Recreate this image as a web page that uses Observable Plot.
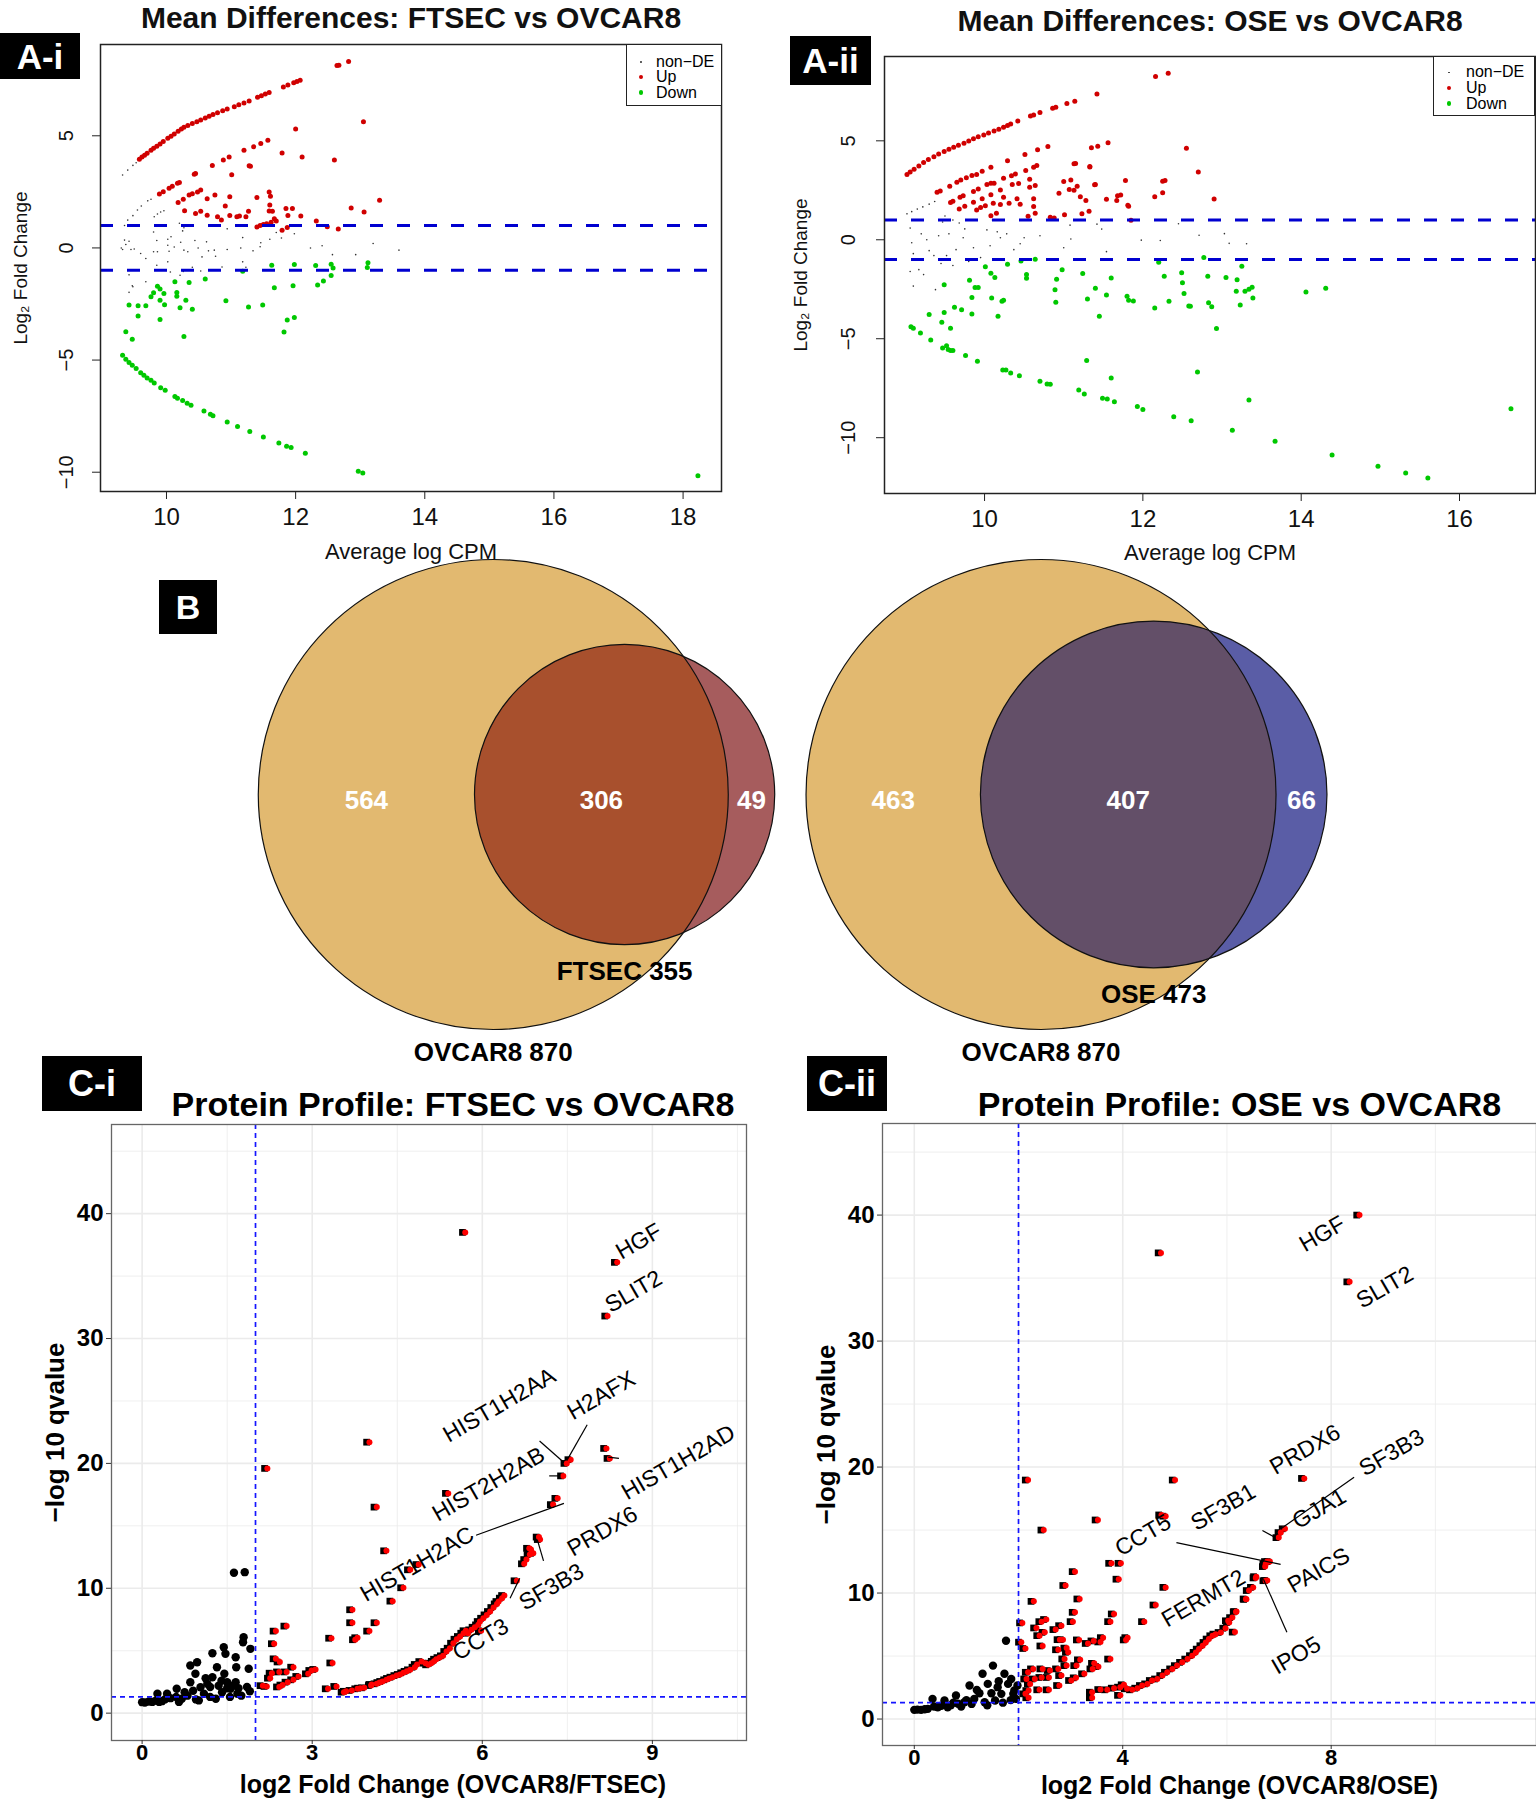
<!DOCTYPE html>
<html><head><meta charset="utf-8">
<script src="https://cdn.jsdelivr.net/npm/d3@7"></script>
<script src="https://cdn.jsdelivr.net/npm/@observablehq/plot@0.6"></script>
<style>
body{margin:0;background:#fff;}
#fig{position:relative;width:1536px;height:1800px;overflow:hidden;background:#fff;font-family:"Liberation Sans",Arial,Helvetica,sans-serif;}
.tag{position:absolute;background:#000;color:#fff;font-weight:bold;display:flex;align-items:center;justify-content:center;line-height:1;}
.legend{position:absolute;background:#fff;border:1.5px solid #222;box-sizing:border-box;font-size:16px;}
.legend span{position:absolute;line-height:1;}
.legend i{position:absolute;border-radius:50%;}
</style></head>
<body><div id="fig"></div>
<script>
// ---------------- DATA ----------------
// Panel A-i : FTSEC vs OVCAR8 (Average log CPM, log2 fold change)
const aiUp = [[9.58,3.95],[9.62,4.05],[9.66,4.13],[9.7,4.22],[9.76,4.36],[9.8,4.44],[9.85,4.53],[9.9,4.63],[9.95,4.74],[10.02,4.89],[10.07,4.98],[10.12,5.08],[10.18,5.2],[10.23,5.3],[10.27,5.38],[10.33,5.46],[10.4,5.55],[10.47,5.63],[10.53,5.7],[10.6,5.79],[10.66,5.87],[10.72,5.95],[10.79,6.03],[10.87,6.12],[10.94,6.19],[11.05,6.3],[11.12,6.38],[11.2,6.46],[11.28,6.55],[11.41,6.72],[11.47,6.78],[11.53,6.86],[11.59,6.93],[11.81,7.18],[11.88,7.26],[11.97,7.37],[12.02,7.42],[12.07,7.48],[12.64,8.13],[12.67,8.15],[12.82,8.31],
[9.89,2.4],[9.95,2.5],[10.04,2.66],[10.09,2.75],[10.17,2.88],[10.2,2.92],[10.43,3.29],[10.45,3.32],[10.71,3.68],[10.88,3.92],[10.97,4.05],[11.2,4.35],[11.35,4.51],[11.46,4.66],[11.57,4.8],[11.01,3.26],[11.3,3.64],[11.28,3.66],[11.79,4.23],[12.0,5.3],[12.1,4.05],[12.6,3.92],[13.05,5.63],
[10.18,2.03],[10.28,1.66],[10.26,2.17],[10.35,2.36],[10.4,2.42],[10.48,2.49],[10.53,2.58],[10.45,1.54],[10.53,1.64],[10.63,2.19],[10.75,2.36],[10.91,1.87],[10.98,2.28],[10.98,1.45],[11.09,1.39],[11.13,1.42],[11.23,1.39],[11.27,1.64],[11.4,2.25],[11.4,0.93],[11.55,1.08],[11.59,2.49],[11.61,2.3],[11.6,1.91],[11.59,1.65],[11.64,1.64],[11.67,1.3],[11.79,0.79],[11.85,1.76],[11.95,1.76],[11.88,1.45],[11.87,0.91],[12.08,1.42],[12.32,1.2],[12.49,0.94],[12.66,0.84],[12.86,1.78],[13.06,1.6],[13.3,2.13],[10.63,1.46],[10.79,1.39],[10.85,1.24],[11.5,1.05],[11.45,1.0],[11.62,1.15],[11.7,1.2]];
const aiDown = [[9.32,-4.79],[9.37,-4.96],[9.42,-5.11],[9.47,-5.23],[9.53,-5.38],[9.6,-5.57],[9.65,-5.68],[9.7,-5.8],[9.76,-5.9],[9.81,-6.02],[9.91,-6.23],[9.98,-6.35],[10.13,-6.62],[10.17,-6.7],[10.25,-6.8],[10.32,-6.92],[10.38,-7.02],[10.58,-7.27],[10.68,-7.42],[10.72,-7.48],[10.94,-7.76],[11.1,-7.96],[11.29,-8.19],[11.5,-8.43],[11.74,-8.7],[11.86,-8.84],[11.93,-8.9],[12.15,-9.15],[12.97,-9.96],[13.04,-10.04],[18.23,-10.16],
[9.37,-3.74],[9.47,-4.07],[9.42,-2.55],[9.56,-2.58],[9.68,-2.58],[9.56,-3.04],[9.76,-2.18],[9.8,-2.0],[9.86,-1.71],[9.9,-1.83],[9.96,-2.03],[9.9,-2.33],[9.97,-2.53],[9.9,-3.19],[10.13,-1.51],[10.16,-1.99],[10.16,-2.15],[10.21,-2.67],[10.3,-2.33],[10.35,-1.54],[10.4,-2.73],[10.27,-3.95],[10.6,-1.39],[10.92,-2.36],[11.18,-1.04],[11.27,-2.63],[11.49,-2.55],[11.63,-0.77],[11.67,-1.78],[11.87,-3.21],[11.82,-3.75],[11.98,-3.1],[11.96,-1.69],[11.98,-0.74],[12.31,-0.78],[12.34,-1.65],[12.43,-1.47],[12.55,-1.23],[12.55,-0.73],[12.58,-0.9],[13.12,-0.66],[13.11,-0.87]];
const aiNonDE = [[9.32,3.25],[9.4,3.47],[9.48,3.68],[9.53,3.8],[9.55,1.69],[9.61,1.87],[9.71,2.1],[9.76,2.17],[9.48,1.44],[9.4,1.24],[9.35,1.0],[9.81,1.39],[9.86,1.51],[9.91,1.6],[9.96,1.66],[9.8,0.71],[10.02,0.39],[10.07,0.5],[10.25,0.76],[10.2,1.1],[10.27,0.9],[10.35,1.02],[9.35,0.35],[9.42,0.3],[9.45,-0.07],[9.32,-0.07],[9.5,-0.05],[9.37,0.15],[9.6,-0.25],[9.68,-0.47],[9.8,-0.17],[9.85,0.33],[9.86,-0.17],[10.04,-0.15],[10.02,0.12],[10.12,0.04],[10.22,0.25],[10.27,-0.1],[10.33,-0.17],[10.44,0.33],[10.49,0.0],[10.55,-0.4],[10.62,0.27],[10.65,-0.13],[10.74,-0.1],[10.76,-0.37],[10.94,-0.07],[10.94,0.85],[11.15,0.0],[11.18,0.46],[11.34,-0.13],[11.46,0.23],[11.45,0.05],[11.6,0.39],[11.7,0.69],[11.78,0.44],[11.98,0.63],[12.23,0.0],[12.41,0.1],[12.57,-0.3],[12.93,-0.3],[13.2,0.2],[13.6,-0.1],[9.68,-1.51],[9.48,-1.73],[9.42,-1.98],[9.85,-0.77],[10.02,-0.62],[10.06,-1.07],[10.21,-1.22],[10.26,-1.05],[10.4,-0.86],[10.53,-1.03],[10.86,-0.85],[11.18,-0.62],[11.23,-0.86],[9.3,0.0],[9.42,-1.2],[9.47,-1.69]];

// Panel A-ii : OSE vs OVCAR8
const aiiUp = [[9.02,3.3],[9.06,3.42],[9.11,3.56],[9.17,3.73],[9.23,3.9],[9.29,4.05],[9.36,4.2],[9.42,4.33],[9.49,4.46],[9.55,4.57],[9.61,4.68],[9.67,4.78],[9.74,4.88],[9.8,4.99],[9.86,5.1],[9.92,5.2],[9.99,5.3],[10.05,5.4],[10.12,5.49],[10.18,5.59],[10.24,5.69],[10.29,5.77],[10.33,5.85],[10.42,6.0],[10.58,6.25],[10.62,6.3],[10.7,6.43],[10.86,6.65],[10.9,6.7],[11.04,6.89],[11.14,7.0],[11.42,7.37],[12.16,8.25],[12.32,8.41],
[9.4,2.4],[9.44,2.47],[9.56,2.7],[9.65,2.91],[9.7,3.02],[9.77,3.14],[9.84,3.25],[9.9,3.3],[9.97,3.46],[10.08,3.67],[10.24,3.11],[10.29,3.99],[10.34,3.23],[10.39,3.32],[10.51,4.31],[10.52,3.5],[10.62,3.67],[10.66,3.75],[10.67,4.55],[10.8,4.71],[9.57,1.88],[9.6,1.95],[9.69,2.15],[9.73,2.22],[9.68,1.56],[9.75,1.69],[9.86,1.9],[9.86,2.44],[9.92,2.57],[9.97,2.07],[9.9,1.51],[9.95,1.63],[10.01,1.72],[10.03,2.79],[10.08,2.85],[10.12,2.86],[10.11,1.85],[10.08,2.28],[10.08,1.22],[10.15,1.34],[10.2,2.52],[10.2,1.78],[10.24,2.15],[10.31,1.85],[10.35,2.79],[10.41,2.07],[10.43,2.84],[10.45,1.8],[10.57,3.06],[10.57,2.66],[10.62,2.07],[10.62,1.68],[10.64,1.34],[10.55,1.19],[10.64,2.74],[10.83,1.14],[10.88,1.1],[10.94,2.35],[11.0,2.94],[11.01,1.27],[11.07,2.54],[11.09,3.02],[11.13,3.84],[11.15,3.86],[11.13,2.5],[11.17,2.7],[11.21,2.18],[11.23,1.31],[11.28,1.98],[11.32,1.44],[11.33,3.68],[11.35,4.65],[11.4,2.79],[11.43,4.72],[11.56,4.9],[11.54,2.05],[11.67,1.98],[11.68,2.23],[11.72,2.26],[11.78,2.99],[11.81,1.74],[12.15,2.18],[12.25,2.38],[12.25,2.96],[12.28,3.0],[12.55,4.62],[12.7,3.43],[12.9,2.06],[11.85,0.99],[11.82,1.7],[11.39,2.78],[11.33,3.7]];
const aiiDown = [[9.07,-4.39],[9.1,-4.47],[9.19,-4.71],[9.32,-5.06],[9.47,-5.47],[9.52,-5.35],[9.54,-5.55],[9.57,-5.6],[9.6,-5.6],[9.76,-5.85],[9.91,-6.14],[10.23,-6.58],[10.27,-6.58],[10.33,-6.73],[10.44,-6.87],[10.7,-7.15],[10.79,-7.29],[10.83,-7.3],[11.19,-7.59],[11.26,-7.79],[11.49,-8.01],[11.55,-8.05],[11.64,-8.18],[11.93,-8.43],[12.0,-8.57],[12.39,-8.94],[12.61,-9.15],[13.13,-9.62],[13.67,-10.18],[14.39,-10.87],[14.97,-11.44],[15.32,-11.79],[15.6,-12.04],[16.65,-8.54],[12.69,-6.68],[13.34,-8.1],[11.6,-6.99],[11.29,-6.1],
[9.49,-2.27],[9.3,-3.78],[9.46,-4.17],[9.49,-3.68],[9.57,-4.47],[9.62,-3.41],[9.71,-3.53],[9.81,-2.05],[9.84,-2.92],[9.84,-3.75],[9.88,-2.41],[9.92,-2.41],[10.01,-1.36],[10.08,-1.69],[10.13,-1.91],[10.09,-2.94],[10.22,-3.11],[10.24,-3.05],[10.17,-3.87],[10.29,-1.24],[10.46,-1.07],[10.53,-1.76],[10.53,-1.94],[10.64,-0.98],[10.98,-1.51],[10.91,-2.0],[10.89,-2.53],[10.9,-3.16],[11.24,-1.71],[11.3,-2.99],[11.4,-2.45],[11.45,-3.87],[11.54,-2.79],[11.6,-1.93],[11.8,-2.85],[11.82,-3.05],[11.88,-3.09],[12.2,-1.14],[12.27,-1.84],[12.15,-3.45],[12.33,-3.1],[12.49,-1.66],[12.5,-2.17],[12.52,-2.71],[12.58,-3.34],[12.6,-3.36],[12.77,-0.9],[12.82,-1.84],[12.83,-3.18],[12.87,-3.38],[12.93,-4.48],[13.05,-1.91],[13.19,-2.02],[13.18,-2.6],[13.23,-3.29],[13.25,-1.34],[13.29,-2.6],[13.34,-2.5],[13.38,-2.4],[13.39,-2.94],[14.06,-2.64],[14.31,-2.45]];
const aiiNonDE = [[9.02,1.31],[9.08,1.42],[9.15,1.55],[9.22,1.66],[9.3,1.8],[9.37,1.93],[9.06,0.59],[9.08,-0.15],[9.1,-0.7],[9.06,-1.6],[9.1,-2.34],[9.17,-1.51],[9.23,-1.76],[9.2,0.3],[9.27,0.0],[9.3,-0.55],[9.36,-0.8],[9.38,-2.52],[9.42,0.2],[9.47,0.9],[9.52,-0.8],[9.55,0.3],[9.6,1.0],[9.64,-0.5],[9.68,0.85],[9.73,0.1],[9.86,-0.4],[10.03,0.5],[10.07,-0.3],[10.16,0.4],[10.2,0.1],[10.28,0.3],[10.37,-0.5],[10.45,-0.2],[10.5,0.1],[10.7,0.2],[11.08,0.74],[11.09,0.04],[11.0,-0.4],[11.42,0.79],[11.48,0.54],[11.54,-0.6],[11.98,-0.02],[12.22,-0.04],[12.45,0.81],[12.71,0.23],[13.03,0.31],[13.09,-0.18],[13.31,-0.2],[9.5,1.2],[9.75,0.55],[9.95,-0.9],[10.1,1.0],[9.45,-1.2],[9.6,-1.3],[9.8,-1.1]];
const mdCutoffs = [1, -1];
const aiXTicks = [10, 12, 14, 16, 18];
const aiiXTicks = [10, 12, 14, 16];
const mdYTicks = [5, 0, -5, -10];

// Panel B : Venn counts
const vennNames = [["OVCAR8", "FTSEC"], ["OVCAR8", "OSE"]];
const vennTotals = [[870, 355], [870, 473]];
const vennOverlap = [306, 407];

// Panel C-i : FTSEC vs OVCAR8 (log2 FC, -log10 q)
const ciSig = [[5.65,38.5],[8.33,36.1],[8.16,31.8],[3.96,21.7],[2.16,19.6],[8.14,21.2],[8.2,20.4],[7.51,20.3],[7.44,20.0],[7.38,19.0],[5.35,17.6],[7.28,17.2],[7.2,16.7],[4.09,16.5],[6.95,14.1],[6.97,13.9],[4.26,13.0],[6.81,13.1],[6.79,12.7],[6.85,12.8],[6.73,12.3],[6.69,11.96],[4.83,11.9],[4.68,11.48],[6.56,10.6],[4.56,10.04],[4.37,8.97],[3.66,8.28],[3.66,7.24],[4.09,7.24],[2.5,6.97],[2.31,6.57],[3.96,6.57],[3.75,6.04],[3.71,5.88],[3.29,6.0],[2.28,5.56],[2.31,4.35],[2.38,4.1],[3.31,4.02],[2.24,3.2],[2.21,2.8],[2.37,3.3],[2.5,3.3],[2.62,3.68],[2.08,2.2],[2.15,2.14],[2.37,2.1],[2.43,2.25],[2.52,2.48],[2.62,2.67],[2.71,2.94],[2.88,3.15],[2.94,3.42],[3.01,3.5],[3.23,1.95],[3.38,2.14],[3.51,1.68],[3.55,1.75],[3.65,1.82],[3.75,1.95],[3.8,2.0],[3.87,2.03],[3.99,2.21],[4.0,2.3],[4.09,2.35],[4.14,2.45],[4.19,2.54],[4.26,2.67],[4.31,2.78],[4.37,2.88],[4.44,3.01],[4.5,3.1],[4.56,3.23],[4.62,3.35],[4.68,3.47],[4.76,3.68],[4.8,3.9],[4.88,4.13],[4.95,4.0],[5.0,3.87],[5.05,4.0],[5.1,4.15],[5.14,4.32],[5.2,4.45],[5.26,4.59],[5.32,4.94],[5.38,5.2],[5.44,5.6],[5.5,5.92],[5.56,6.14],[5.62,6.4],[5.66,6.6],[5.7,6.4],[5.76,6.67],[5.82,6.88],[5.88,7.07],[5.93,6.6],[5.91,7.34],[5.97,7.6],[6.03,7.87],[6.09,8.14],[6.15,8.46],[6.21,8.75],[6.24,8.94],[6.3,9.21],[6.34,9.42],[6.78,13.2]];
const ciNS = [[0.0,0.88],[0.05,0.85],[0.12,0.93],[0.18,0.9],[0.24,1.0],[0.3,0.9],[0.35,0.96],[0.27,1.55],[0.44,1.55],[0.5,1.2],[0.61,1.95],[0.7,1.15],[0.75,1.68],[0.85,2.48],[0.85,3.82],[0.97,4.08],[0.94,3.15],[1.03,2.08],[1.0,1.02],[1.09,1.55],[1.15,2.35],[1.24,4.8],[1.24,2.88],[1.3,1.15],[1.32,3.68],[1.41,1.68],[1.44,5.28],[1.47,4.75],[1.45,3.15],[1.5,2.48],[1.56,1.95],[1.65,4.48],[1.66,3.68],[1.65,2.48],[1.68,1.55],[1.62,11.24],[1.81,11.29],[1.79,6.08],[1.78,5.68],[1.91,5.15],[1.88,3.55],[1.9,1.76],[0.6,1.3],[0.8,1.4],[0.9,1.8],[1.12,2.8],[1.2,2.1],[1.35,2.2],[1.4,2.6],[1.5,2.0],[1.6,2.2],[1.7,2.0],[1.75,1.4],[1.85,2.1],[1.55,1.3],[1.2,1.3],[0.95,1.1],[0.4,1.1],[0.65,0.9]];
const ciGenes = [["HGF",8.76,37.77],["SLIT2",8.67,33.76],["HIST1H2AA",6.30,24.66],["H2AFX",8.10,25.44],["HIST2H2AB",6.11,18.33],["HIST1H2AD",9.46,20.07],["PRDX6",8.12,14.55],["HIST1H2AC",4.85,11.92],["SF3B3",7.22,10.10],["CCT3",5.97,5.9]];
const ciLeaders = [[7.85,23.1,7.5,20.3],[7.01,21.8,7.44,20.07],[7.18,19.0,7.38,19.0],[8.22,20.5,8.41,20.4],[5.89,14.25,7.44,16.8],[6.97,13.9,7.08,12.2],[6.49,9.2,6.66,10.8]];

// Panel C-ii : OSE vs OVCAR8
const ciiSig = [[8.49,40.0],[8.3,34.7],[4.68,37.0],[2.13,18.97],[4.95,18.97],[7.43,19.1],[4.69,16.2],[4.77,16.1],[3.47,15.8],[2.43,15.0],[7.06,15.1],[6.98,14.8],[6.94,14.4],[6.72,12.5],[6.77,12.5],[6.68,12.1],[6.69,12.3],[3.73,12.36],[3.91,12.36],[6.51,11.3],[6.5,11.2],[6.69,10.98],[3.87,11.1],[3.03,11.7],[2.85,10.6],[4.77,10.45],[6.45,10.45],[6.37,10.2],[6.31,9.53],[3.12,9.53],[2.24,9.34],[4.58,9.05],[3.03,8.47],[3.78,8.34],[6.13,8.53],[2.99,7.73],[3.71,7.73],[2.02,7.63],[2.39,7.73],[2.48,7.9],[4.36,7.73],[6.05,8.05],[2.29,7.23],[2.77,7.41],[2.66,7.1],[2.35,6.62],[2.45,6.88],[2.74,6.3],[2.8,6.3],[2.0,6.1],[2.08,5.6],[2.41,5.8],[2.71,5.5],[2.87,5.63],[2.9,5.3],[3.11,6.28],[3.28,6.0],[3.39,6.2],[3.52,6.12],[3.57,6.46],[3.71,4.76],[4.01,6.28],[4.04,6.46],[2.83,4.77],[3.13,4.7],[3.06,4.24],[2.87,4.24],[2.71,3.98],[2.55,3.85],[2.41,3.98],[2.23,3.98],[2.13,3.71],[2.1,3.18],[2.26,3.18],[2.39,3.3],[2.53,3.3],[2.77,3.45],[2.96,3.06],[3.05,3.27],[3.21,3.59],[3.37,3.98],[3.4,4.42],[3.48,4.16],[2.17,2.79],[2.35,2.32],[2.53,2.32],[2.14,2.26],[2.08,2.0],[2.14,1.69],[2.73,2.66],[3.36,2.13],[3.36,1.69],[3.52,2.34],[3.65,2.32],[3.78,2.45],[3.9,2.53],[3.97,2.72],[3.9,1.88],[4.03,2.4],[4.13,2.32],[4.23,2.45],[4.32,2.66],[4.42,2.79],[4.51,3.06],[4.61,3.18],[4.71,3.45],[4.8,3.71],[4.9,3.98],[4.99,4.24],[5.09,4.5],[5.19,4.76],[5.28,5.03],[5.35,5.29],[5.41,5.55],[5.48,5.82],[5.54,6.08],[5.6,6.35],[5.67,6.61],[5.73,6.74],[5.83,6.87],[5.92,7.21],[5.99,7.66],[6.1,6.9],[5.97,7.8],[6.12,8.5],[6.32,9.5],[6.72,11.0]];
const ciiNS = [[0.0,0.73],[0.06,0.75],[0.13,0.73],[0.2,0.78],[0.26,0.81],[0.35,1.6],[0.38,1.0],[0.45,0.94],[0.52,1.05],[0.58,1.47],[0.64,0.94],[0.7,1.1],[0.8,1.87],[0.84,1.21],[0.9,1.0],[0.96,1.34],[1.06,2.66],[1.1,1.2],[1.15,1.6],[1.25,2.05],[1.31,3.59],[1.35,1.34],[1.41,2.79],[1.48,2.05],[1.51,4.24],[1.55,1.47],[1.6,2.53],[1.67,2.0],[1.73,3.59],[1.76,6.22],[1.8,2.79],[1.86,3.18],[1.92,2.26],[1.95,1.6],[1.98,2.66],[1.4,1.1],[1.7,1.3],[1.85,1.5],[1.2,2.3],[1.0,1.5],[0.75,1.3],[1.62,3.0],[1.9,2.0]];
const ciiGenes = [["HGF",7.83,38.5],["SLIT2",9.03,34.27],["PRDX6",7.50,21.38],["SF3B3",9.16,21.13],["SF3B1",5.93,16.80],["GJA1",7.77,16.69],["CCT5",4.39,14.58],["PAICS",7.76,11.78],["FERMT2",5.55,9.57],["IPO5",7.33,5.04]];
const ciiLeaders = [[8.44,19.2,7.05,15.15],[6.68,14.96,6.93,14.4],[5.03,14.0,7.03,12.27],[6.7,11.1,7.15,6.88]];
const volcanoFcCut = [2];
const volcanoQCut = [1.3];
const ciXTicks = [0, 3, 6, 9], ciXMinor = [1.5, 4.5, 7.5, 10.5];
const ciiXTicks = [0, 4, 8], ciiXMinor = [2, 6, 10];
const volYTicks = [0, 10, 20, 30, 40], volYMinor = [5, 15, 25, 35, 45];

// ---------------- DRAWING ----------------
const FONT = '"Liberation Sans", Arial, Helvetica, sans-serif';
const fig = document.getElementById("fig");
function place(node, left, top) {
  node.style.position = "absolute"; node.style.left = left + "px"; node.style.top = top + "px";
  fig.appendChild(node);
}
function tag(text, left, top, w, h, fs) {
  const d = document.createElement("div");
  d.className = "tag"; d.textContent = text;
  Object.assign(d.style, {left: left + "px", top: top + "px", width: w + "px", height: h + "px", fontSize: fs + "px"});
  fig.appendChild(d);
}
function legend(left, top, w, h, rows, symX, textX) {
  const d = document.createElement("div");
  d.className = "legend";
  Object.assign(d.style, {left: left + "px", top: top + "px", width: w + "px", height: h + "px"});
  const items = [["non−DE", "#333", 0.9], ["Up", "#D00000", 2.3], ["Down", "#00C800", 2.3]];
  items.forEach(([lab, col, r], i) => {
    const dot = document.createElement("i");
    Object.assign(dot.style, {left: (symX - r) + "px", top: (rows[i] - r) + "px", width: 2 * r + "px", height: 2 * r + "px", background: col});
    d.appendChild(dot);
    const s = document.createElement("span");
    s.textContent = lab;
    Object.assign(s.style, {left: textX + "px", top: (rows[i] - 8) + "px"});
    d.appendChild(s);
  });
  fig.appendChild(d);
}
const minus = v => v < 0 ? "−" + Math.abs(v) : String(v);
const XY = {x: d => d[0], y: d => d[1]};

// ---- Venn (area-proportional circles, overlap solved from the counts)
function lensArea(r1, r2, d) {
  if (d >= r1 + r2) return 0;
  if (d <= Math.abs(r1 - r2)) return Math.PI * Math.min(r1, r2) ** 2;
  const a = r1 * r1 * Math.acos((d * d + r1 * r1 - r2 * r2) / (2 * d * r1));
  const b = r2 * r2 * Math.acos((d * d + r2 * r2 - r1 * r1) / (2 * d * r2));
  const c = 0.5 * Math.sqrt((-d + r1 + r2) * (d + r1 - r2) * (d - r1 + r2) * (d + r1 + r2));
  return a + b - c;
}
function solveDistance(r1, r2, target) {
  let lo = Math.abs(r1 - r2), hi = r1 + r2;
  for (let i = 0; i < 80; i++) {
    const mid = (lo + hi) / 2;
    if (lensArea(r1, r2, mid) > target) lo = mid; else hi = mid;
  }
  return (lo + hi) / 2;
}
const VENN_PX = 235 / Math.sqrt(870);
const TAN = "#E2B970";
const vennColors = [["#A65C5D", "#A8502D"], ["#5A5DA6", "#634F68"]];
function vennPlot(i) {
  const [nA, nB] = vennTotals[i], ov = vennOverlap[i];
  const r1 = Math.sqrt(nA), r2 = Math.sqrt(nB);
  const d = solveDistance(r1, r2, Math.PI * ov);
  const W = 560, H = 520, k = VENN_PX, top = 234;
  const cx = (-r1 + d + r2) / 2;
  const pts = [
    {x: (-r1 + d - r2) / 2, t: String(nA - ov)},
    {x: (d - r2 + r1) / 2, t: String(ov)},
    {x: (r1 + d + r2) / 2, t: String(nB - ov)}
  ];
  const one = [0];
  const svg = Plot.plot({
    width: W, height: H, margin: 0,
    style: {fontFamily: FONT, background: "none", overflow: "visible"},
    x: {domain: [cx - W / 2 / k, cx + W / 2 / k], axis: null},
    y: {domain: [-(H - top) / k, top / k], axis: null},
    marks: [
      Plot.dot(one, {x: () => 0, y: () => 0, r: r1 * k, fill: TAN}),
      Plot.dot(one, {x: () => d, y: () => 0, r: r2 * k, fill: vennColors[i][0]}),
      Plot.dot(one, {x: () => d, y: () => 0, r: r2 * k, fill: vennColors[i][1]}),
      Plot.dot(one, {x: () => 0, y: () => 0, r: r1 * k, stroke: "#111", strokeWidth: 1.2}),
      Plot.dot(one, {x: () => d, y: () => 0, r: r2 * k, stroke: "#111", strokeWidth: 1.2}),
      Plot.text(pts, {x: "x", y: () => 0, dy: 6, text: "t", fill: "white", fontWeight: "bold", fontSize: 26}),
      Plot.text(one, {x: () => d, y: () => -r2, dy: 27, text: () => vennNames[i][1] + " " + nB, fontWeight: "bold", fontSize: 26, fill: "black"}),
      Plot.text(one, {x: () => 0, y: () => -r1, dy: 23, text: () => vennNames[i][0] + " " + nA, fontWeight: "bold", fontSize: 26, fill: "black"})
    ]
  });
  // clip the overlap-coloured copy of the small circle to the big circle
  const groups = svg.querySelectorAll('g[aria-label="dot"]');
  const big = groups[0].querySelector("circle");
  const lens = groups[2].querySelector("circle");
  const id = "vclip" + i;
  const ns = "http://www.w3.org/2000/svg";
  const defs = document.createElementNS(ns, "defs");
  const cp = document.createElementNS(ns, "clipPath");
  cp.setAttribute("id", id);
  cp.appendChild(big.cloneNode(true));
  defs.appendChild(cp);
  svg.insertBefore(defs, svg.firstChild);
  lens.setAttribute("clip-path", "url(#" + id + ")");
  return svg;
}
// Venn first so that the axis titles above it stay on top
place(vennPlot(0), 236, 560);
place(vennPlot(1), 786, 560);

function mdPlot(o) {
  return Plot.plot({
    width: o.width, height: o.height,
    marginLeft: o.mL, marginRight: o.mR, marginTop: o.mT, marginBottom: o.mB,
    style: {fontFamily: FONT, fontSize: "24px", background: "none", overflow: "visible", color: "#111"},
    x: {domain: o.xdom}, y: {domain: o.ydom},
    marks: [
      Plot.dot(o.nonde, {...XY, r: 0.8, fill: "#333"}),
      Plot.dot(o.up, {...XY, r: 2.5, fill: "#D00000"}),
      Plot.dot(o.down, {...XY, r: 2.5, fill: "#00C800"}),
      Plot.ruleY(mdCutoffs, {y: d => d, stroke: "#0000D0", strokeWidth: 3, strokeDasharray: "13,14"}),
      Plot.frame({stroke: "#222", strokeWidth: 1.5}),
      Plot.axisX({ticks: o.xticks, tickSize: 8, tickPadding: 8, label: null, stroke: "#222"}),
      Plot.axisY({ticks: mdYTicks, tickSize: 8, tickFormat: () => "", label: null, stroke: "#222"}),
      Plot.text(mdYTicks, {y: d => d, text: d => minus(d), frameAnchor: "left", textAnchor: "middle", dx: o.yTickDx, rotate: -90, fontSize: 20}),
      Plot.text([o.title], {text: d => d, frameAnchor: "top", dy: o.titleDy, lineAnchor: "bottom", fontWeight: "bold", fontSize: 30}),
      Plot.text(["Average log CPM"], {text: d => d, frameAnchor: "bottom", dy: o.xlabDy, lineAnchor: "bottom", fontSize: 22}),
      Plot.text(["Log₂ Fold Change"], {text: d => d, frameAnchor: "left", textAnchor: "middle", dx: o.ylabDx, rotate: -90, fontSize: 19})
    ]
  });
}

place(mdPlot({width: 768, height: 575, mL: 100, mR: 47, mT: 44, mB: 84,
  xdom: [8.978, 18.595], ydom: [-10.86, 9.07], xticks: aiXTicks,
  up: aiUp, down: aiDown, nonde: aiNonDE,
  title: "Mean Differences: FTSEC vs OVCAR8", titleDy: -17, xlabDy: 67, ylabDx: -80, yTickDx: -34}), 0, 0);
place(mdPlot({width: 768, height: 575, mL: 116, mR: 1, mT: 56, mB: 82,
  xdom: [8.736, 16.96], ydom: [-12.82, 9.26], xticks: aiiXTicks,
  up: aiiUp, down: aiiDown, nonde: aiiNonDE,
  title: "Mean Differences: OSE vs OVCAR8", titleDy: -26, xlabDy: 66, ylabDx: -84, yTickDx: -36}), 768, 0);
legend(626, 44, 96, 62, [16.7, 32, 47.7], 14, 29);
legend(1433, 56, 102, 60, [15.4, 30.8, 46.5], 15, 32);

// ---- Volcano plots
function volcano(o) {
  return Plot.plot({
    width: 768, height: 760,
    marginLeft: o.mL, marginRight: o.mR, marginTop: o.mT, marginBottom: o.mB,
    style: {fontFamily: FONT, fontSize: "24px", fontWeight: "bold", background: "none", overflow: "visible", color: "#000"},
    x: {domain: o.xdom}, y: {domain: o.ydom},
    marks: [
      Plot.gridX({ticks: o.xminor, stroke: "#EBEBEB", strokeOpacity: 1, strokeWidth: 0.8}),
      Plot.gridY({ticks: volYMinor, stroke: "#EBEBEB", strokeOpacity: 1, strokeWidth: 0.8}),
      Plot.gridX({ticks: o.xticks, stroke: "#EBEBEB", strokeOpacity: 1, strokeWidth: 1.6}),
      Plot.gridY({ticks: volYTicks, stroke: "#EBEBEB", strokeOpacity: 1, strokeWidth: 1.6}),
      Plot.dot(o.ns, {...XY, r: 4.2, fill: "black"}),
      Plot.dot(o.sig, {...XY, symbol: "square", r: 3.8, fill: "black"}),
      Plot.dot(o.sig, {...XY, r: 3, fill: "#FF0000", dx: 2.8}),
      Plot.ruleX(volcanoFcCut, {x: d => d, stroke: "#1515FF", strokeWidth: 1.7, strokeDasharray: "5,4"}),
      Plot.ruleY(volcanoQCut, {y: d => d, stroke: "#1515FF", strokeWidth: 1.7, strokeDasharray: "5,4"}),
      Plot.link(o.leaders, {x1: d => d[0], y1: d => d[1], x2: d => d[2], y2: d => d[3], stroke: "black", strokeWidth: 1.2}),
      Plot.text(o.genes, {x: d => d[1], y: d => d[2], text: d => d[0], rotate: -30, fontWeight: "normal", fontSize: 23}),
      Plot.frame({stroke: "#666", strokeWidth: 1.3}),
      Plot.axisX({ticks: o.xticks, tickSize: 4, tickPadding: 0, label: null, stroke: "#333", fontSize: 22}),
      Plot.axisY({ticks: volYTicks, tickSize: 5, tickPadding: 3, label: null, stroke: "#333"}),
      Plot.text([o.title], {text: d => d, frameAnchor: "top", dx: o.titleDx, dy: o.titleDy, lineAnchor: "bottom", fontSize: 34}),
      Plot.text([o.xlab], {text: d => d, frameAnchor: "bottom", dx: o.titleDx, dy: o.xlabDy, lineAnchor: "bottom", fontSize: 25}),
      Plot.text(["−log 10 qvalue"], {text: d => d, frameAnchor: "left", textAnchor: "middle", dx: -56, rotate: -90, fontSize: 26})
    ]
  });
}
place(volcano({mL: 111, mR: 22, mT: 84, mB: 60, xdom: [-0.54, 10.66], ydom: [-2.19, 47.14],
  xticks: ciXTicks, xminor: ciXMinor, sig: ciSig, ns: ciNS, genes: ciGenes, leaders: ciLeaders,
  title: "Protein Profile: FTSEC vs OVCAR8", xlab: "log2 Fold Change (OVCAR8/FTSEC)", titleDx: 24, titleDy: -9, xlabDy: 52}), 0, 1040);
place(volcano({mL: 114, mR: 0, mT: 83, mB: 55, xdom: [-0.61, 11.94], ydom: [-2.1, 47.27],
  xticks: ciiXTicks, xminor: ciiXMinor, sig: ciiSig, ns: ciiNS, genes: ciiGenes, leaders: ciiLeaders,
  title: "Protein Profile: OSE vs OVCAR8", xlab: "log2 Fold Change (OVCAR8/OSE)", titleDx: 30, titleDy: -8, xlabDy: 48}), 768, 1040);

tag("A-i", 0, 33, 80, 46, 35);
tag("A-ii", 790, 36, 81, 49, 35);
tag("B", 159, 580, 58, 54, 34);
tag("C-i", 42, 1056, 100, 55, 36);
tag("C-ii", 807, 1056, 80, 55, 36);
</script>
</body></html>
